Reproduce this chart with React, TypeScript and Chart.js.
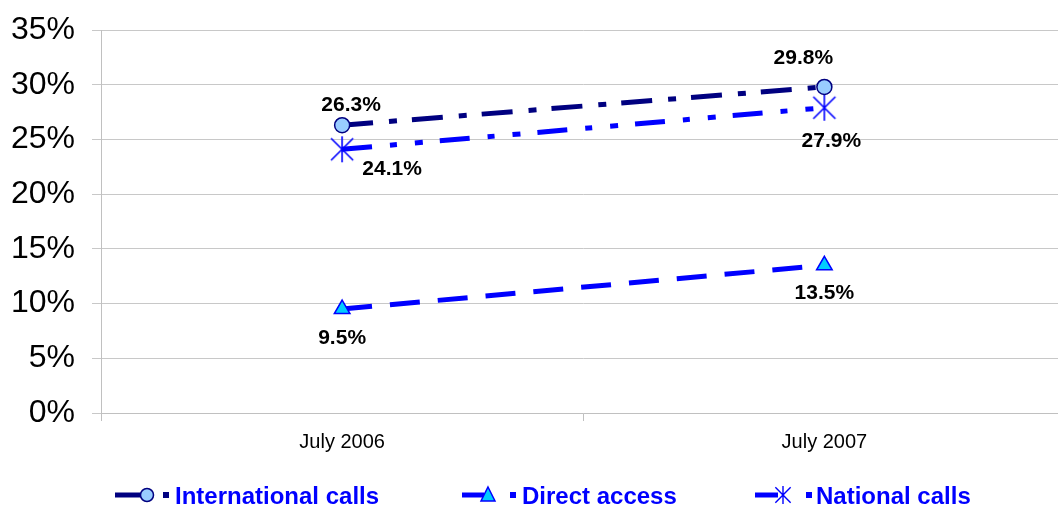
import React, { useEffect, useRef } from "react";
import { Chart, registerables } from "chart.js";

Chart.register(...registerables);

const categories = ["July 2006", "July 2007"];
const seriesNames = ["International calls", "Direct access", "National calls"];
const internationalCalls = [26.3, 29.8];
const directAccess = [9.5, 13.5];
const nationalCalls = [24.1, 27.9];
const yTicks = [0, 5, 10, 15, 20, 25, 30, 35];

const FONT = "'Liberation Sans', Arial, sans-serif";

// label offsets relative to point (style, not data)
const labelOffsets = [
  [[9, -20], [-21, -29]],
  [[0, 29], [0, 28]],
  [[50, 20], [7, 34]],
];

function drawAsterisk(ctx: CanvasRenderingContext2D, x: number, y: number, r: number, color: string, lw: number) {
  ctx.save();
  ctx.strokeStyle = color;
  ctx.lineWidth = lw;
  ctx.beginPath();
  ctx.moveTo(x, y - r);
  ctx.lineTo(x, y + r);
  const d = r * 0.85;
  ctx.moveTo(x - d, y - d);
  ctx.lineTo(x + d, y + d);
  ctx.moveTo(x - d, y + d);
  ctx.lineTo(x + d, y - d);
  ctx.stroke();
  ctx.restore();
}

function asteriskImage(r: number, color: string, lw: number) {
  const c = document.createElement("canvas");
  const s = Math.ceil(r * 2 + 4);
  c.width = s;
  c.height = s;
  const ctx = c.getContext("2d")!;
  drawAsterisk(ctx, s / 2, s / 2, r, color, lw);
  return c;
}

const labelPlugin = {
  id: "valueLabels",
  afterDatasetsDraw(chart: any) {
    const ctx = chart.ctx;
    ctx.save();
    ctx.font = `bold 21px ${FONT}`;
    ctx.fillStyle = "#000";
    ctx.textAlign = "center";
    ctx.textBaseline = "middle";
    chart.data.datasets.forEach((ds: any, di: number) => {
      const meta = chart.getDatasetMeta(di);
      meta.data.forEach((pt: any, i: number) => {
        const v = ds.data[i];
        const off = labelOffsets[di][i];
        ctx.fillText(v.toFixed(1) + "%", pt.x + off[0], pt.y + off[1]);
      });
    });
    ctx.restore();
  },
};

function drawMarker(ctx: CanvasRenderingContext2D, kind: number, x: number, y: number) {
  ctx.save();
  ctx.lineWidth = 1.5;
  ctx.beginPath();
  if (kind === 0) {
    ctx.fillStyle = "#99CCFF";
    ctx.strokeStyle = "#000080";
    ctx.arc(x, y, 6.5, 0, Math.PI * 2);
    ctx.fill();
    ctx.stroke();
  } else if (kind === 1) {
    ctx.fillStyle = "#00CCFF";
    ctx.strokeStyle = "#0000FF";
    ctx.moveTo(x, y - 8);
    ctx.lineTo(x + 7, y + 6);
    ctx.lineTo(x - 7, y + 6);
    ctx.closePath();
    ctx.fill();
    ctx.stroke();
  } else {
    drawAsterisk(ctx, x, y, 9, "#0000FF", 1.4);
  }
  ctx.restore();
}

// legend layout (style)
const legendLayout = [
  { lineFrom: 115, lineTo: 142, marker: 147, square: 163, text: 175 },
  { lineFrom: 462, lineTo: 484, marker: 488, square: 510, text: 522 },
  { lineFrom: 755, lineTo: 778, marker: 783, square: 806, text: 816 },
];

const legendPlugin = {
  id: "customLegend",
  afterDraw(chart: any) {
    const ctx = chart.ctx;
    const y = 495;
    chart.data.datasets.forEach((ds: any, di: number) => {
      const L = legendLayout[di];
      ctx.save();
      ctx.strokeStyle = ds.borderColor;
      ctx.lineWidth = 5;
      ctx.beginPath();
      ctx.moveTo(L.lineFrom, y);
      ctx.lineTo(L.lineTo, y);
      ctx.stroke();
      ctx.fillStyle = ds.borderColor;
      ctx.fillRect(L.square, y - 3, 6, 6);
      ctx.restore();
      drawMarker(ctx, di, L.marker, y);
      ctx.save();
      ctx.font = `bold 24px ${FONT}`;
      ctx.fillStyle = "#0000FF";
      ctx.textAlign = "left";
      ctx.textBaseline = "alphabetic";
      ctx.fillText(seriesNames[di], L.text, 504);
      ctx.restore();
    });
  },
};

export default function App() {
  const ref = useRef<HTMLCanvasElement>(null);
  useEffect(() => {
    if (!ref.current) return;
    const star = asteriskImage(13, "#0000FF", 1.6);
    const chart = new Chart(ref.current, {
      type: "line",
      data: {
        labels: categories,
        datasets: [
          {
            label: seriesNames[0],
            data: internationalCalls,
            borderColor: "#000080",
            borderWidth: 5,
            borderDash: [31, 16, 8, 15],
            pointStyle: "circle",
            pointRadius: 7.5,
            pointBackgroundColor: "#99CCFF",
            pointBorderColor: "#000080",
            pointBorderWidth: 1.5,
            fill: false,
          },
          {
            label: seriesNames[1],
            data: directAccess,
            borderColor: "#0000FF",
            borderWidth: 5,
            borderDash: [30, 18],
            pointStyle: "triangle",
            pointRadius: 9,
            pointBackgroundColor: "#00CCFF",
            pointBorderColor: "#0000FF",
            pointBorderWidth: 1.5,
            fill: false,
          },
          {
            label: seriesNames[2],
            data: nationalCalls,
            borderColor: "#0000FF",
            borderWidth: 5,
            borderDash: [30, 18, 7, 18, 8, 17],
            pointStyle: star as any,
            pointRadius: 13,
            pointBackgroundColor: "rgba(0,0,0,0)",
            pointBorderColor: "#0000FF",
            pointBorderWidth: 1.5,
            fill: false,
          },
        ],
      },
      options: {
        animation: false,
        responsive: true,
        maintainAspectRatio: false,
        layout: { padding: { left: 0, right: 9, top: 30, bottom: 40 } },
        plugins: {
          legend: { display: false },
          tooltip: { enabled: false },
        },
        scales: {
          x: {
            type: "category",
            offset: true,
            grid: {
              display: true,
              drawOnChartArea: false,
              offset: true,
              tickLength: 8,
              color: "#C0C0C0",
            },
            border: { display: true, color: "#C0C0C0" },
            ticks: {
              font: { family: FONT, size: 20 },
              color: "#000",
              padding: 9,
              maxRotation: 0,
            },
            afterFit(scale: any) {
              scale.height = 53;
              scale.paddingLeft = 0;
              scale.paddingRight = 0;
            },
          },
          y: {
            min: 0,
            max: 35,
            afterBuildTicks(scale: any) {
              scale.ticks = yTicks.map((v) => ({ value: v }));
            },
            grid: {
              display: true,
              drawOnChartArea: true,
              tickLength: 9,
              color: "#C8C8C8",
            },
            border: { display: true, color: "#C0C0C0" },
            ticks: {
              font: { family: FONT, size: 32 },
              color: "#000",
              padding: 17,
              callback: (v: any) => v + "%",
            },
            afterFit(scale: any) {
              scale.width = 101;
              scale.paddingTop = 0;
              scale.paddingBottom = 0;
            },
          },
        },
      },
      plugins: [labelPlugin, legendPlugin],
    });
    return () => chart.destroy();
  }, []);
  return (
    <div
      style={{
        position: "fixed",
        left: 0,
        top: 0,
        width: 1058,
        height: 506,
        overflow: "hidden",
        background: "#fff",
      }}
    >
      <div style={{ position: "relative", width: 1080, height: 506 }}>
        <canvas ref={ref} />
      </div>
    </div>
  );
}
